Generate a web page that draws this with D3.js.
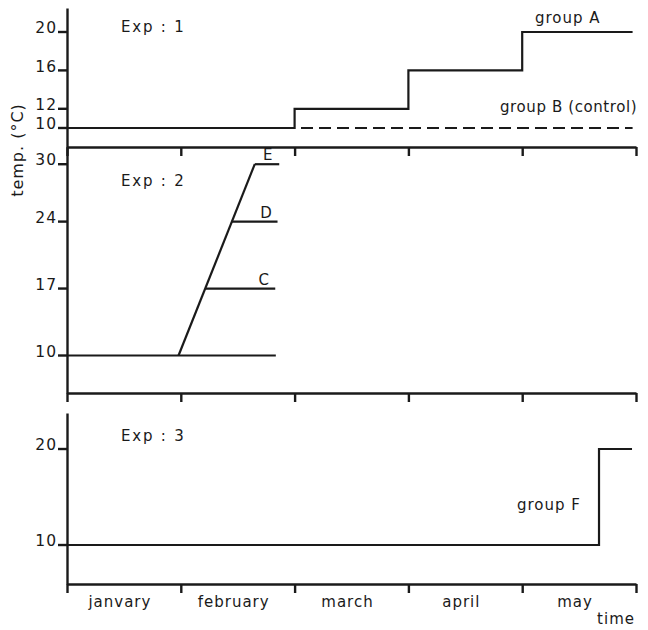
<!DOCTYPE html>
<html>
<head>
<meta charset="utf-8">
<script src="https://cdn.jsdelivr.net/npm/d3@7"></script>
<style>
  body { margin: 0; background: #fff; }
  svg { display: block; }
  text { font-family: "DejaVu Sans", sans-serif; font-size: 15px; fill: #1a1a1a; letter-spacing: 1px; }
  .axis path, .axis line { stroke: #1a1a1a; stroke-width: 2.4; }
  .line { fill: none; stroke: #1a1a1a; stroke-width: 2.2; }
</style>
</head>
<body>
<svg id="chart" width="648" height="630"></svg>
<script>

// Data (time in months from 1 January)
var months = ['janvary', 'february', 'march', 'april', 'may'];
var monthTicks = [0, 1, 2, 3, 4, 5];

// Exp 1
var exp1Ticks = [10, 12, 16, 20];
var groupA_t = [0, 2, 3, 4, 4.97];
var groupA_v = [10, 12, 16, 20, 20];
var groupB_t = [0, 4.97];
var groupB_v = [10, 10];

// Exp 2
var exp2Ticks = [10, 17, 24, 30];
var base2_t = [0, 1.835];
var base2_v = [10, 10];
var ramp_t = [0.98, 1.65];
var ramp_v = [10, 30];
var levels = ['C', 'D', 'E'];
var level_v = [17, 24, 30];
var levelStart_t = [1.215, 1.45, 1.65];
var levelEnd_t = [1.83, 1.85, 1.865];

// Exp 3
var exp3Ticks = [10, 20];
var groupF_t = [0, 4.675, 4.965];
var groupF_v = [10, 20, 20];

var svg = d3.select('#chart');

var x = d3.scaleLinear().domain([0, 5]).range([67, 636]);

// One y scale per panel
var panels = [
  { name: 'Exp : 1', domain: [8.02, 22.5], range: [147, 8], ticks: exp1Ticks, titleY: 32 },
  { name: 'Exp : 2', domain: [6.08, 31.8], range: [393, 147], ticks: exp2Ticks, titleY: 186 },
  { name: 'Exp : 3', domain: [5.94, 23.75], range: [584, 413], ticks: exp3Ticks, titleY: 441 }
];

panels.forEach(function(p) {
  p.y = d3.scaleLinear().domain(p.domain).range(p.range);

  var gy = svg.append('g')
      .attr('class', 'axis')
      .attr('transform', 'translate(' + x(0) + ',0)')
      .call(d3.axisLeft(p.y).tickValues(p.ticks).tickSize(9).tickSizeOuter(0).tickPadding(1));
  gy.selectAll('text').attr('dy', '0.05em').style('font-size', '15.5px');
  gy.selectAll('.tick line').attr('y1', -0.5).attr('y2', -0.5);

  svg.append('g')
      .attr('class', 'axis')
      .attr('transform', 'translate(0,' + p.range[0] + ')')
      .call(d3.axisBottom(x).tickValues(monthTicks).tickSize(9).tickSizeOuter(0).tickFormat(''));

  svg.append('text')
      .attr('x', 121)
      .attr('y', p.titleY)
      .style('letter-spacing', '1.8px')
      .text(p.name);
});

function lineOf(p, curve) {
  return d3.line()
      .x(function(d) { return x(d[0]); })
      .y(function(d) { return p.y(d[1]); })
      .curve(curve || d3.curveLinear);
}

function pairs(t, v) {
  return t.map(function(d, i) { return [d, v[i]]; });
}

// Exp 1
var p1 = panels[0];
svg.append('path')
    .attr('class', 'line')
    .attr('stroke-dasharray', '12,6')
    .attr('d', lineOf(p1)(pairs(groupB_t, groupB_v)));
svg.append('path')
    .attr('class', 'line')
    .attr('d', lineOf(p1, d3.curveStepAfter)(pairs(groupA_t, groupA_v)));

svg.append('text').attr('x', 535).attr('y', 23).text('group  A');
svg.append('text').attr('x', 500).attr('y', 112).style('letter-spacing', '0.6px').text('group B (control)');

// Exp 2
var p2 = panels[1];
svg.append('path')
    .attr('class', 'line')
    .attr('d', lineOf(p2)(pairs(base2_t, base2_v)));
svg.append('path')
    .attr('class', 'line')
    .attr('d', lineOf(p2)(pairs(ramp_t, ramp_v)));

levels.forEach(function(name, i) {
  svg.append('path')
      .attr('class', 'line')
      .attr('d', lineOf(p2)([[levelStart_t[i], level_v[i]], [levelEnd_t[i], level_v[i]]]));
  svg.append('text')
      .attr('x', x(levelEnd_t[i]) - 11)
      .attr('y', p2.y(level_v[i]) - 4)
      .attr('text-anchor', 'middle')
      .text(name);
});

// Exp 3
var p3 = panels[2];
svg.append('path')
    .attr('class', 'line')
    .attr('d', lineOf(p3, d3.curveStepAfter)(pairs(groupF_t, groupF_v)));
svg.append('text').attr('x', 517).attr('y', 510).text('group F');

// Month labels
svg.selectAll('.month')
  .data(months)
  .enter()
    .append('text')
    .attr('class', 'month')
    .attr('x', function(d, i) { return x(i + 0.5) - 4; })
    .attr('y', 607)
    .attr('text-anchor', 'middle')
    .text(function(d) { return d; });

svg.append('text')
    .attr('x', 635)
    .attr('y', 624)
    .attr('text-anchor', 'end')
    .text('time');

// Y label
svg.append('text')
    .attr('transform', 'translate(23,150) rotate(-90)')
    .attr('text-anchor', 'middle')
    .style('font-size', '16px')
    .text('temp. (°C)');

</script>
</body>
</html>
